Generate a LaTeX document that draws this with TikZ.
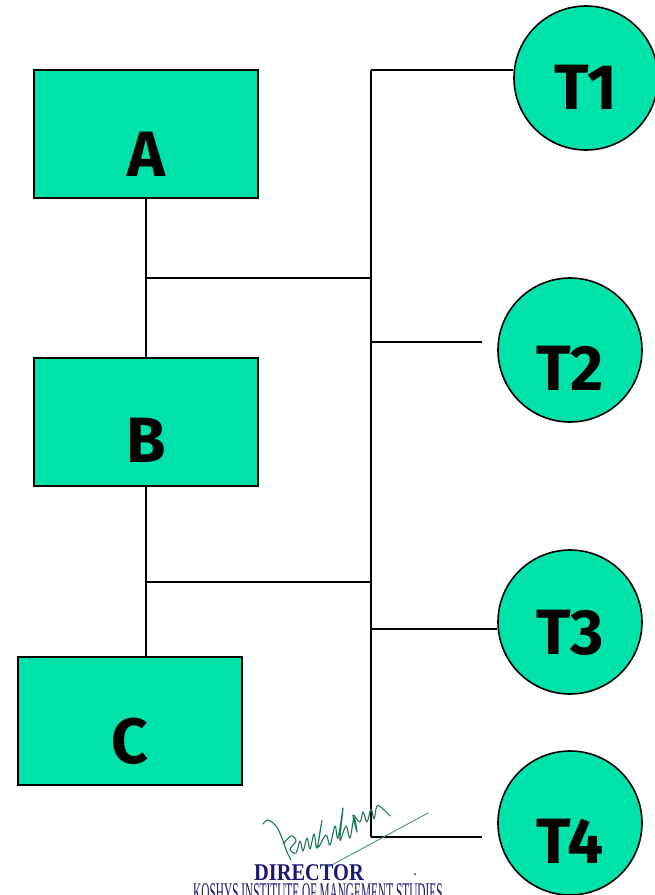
\documentclass[tikz,border=0pt]{standalone}
\usepackage{fontspec}
\setmainfont{Fira Sans}
\newfontfamily\serifbl{Liberation Serif}
\definecolor{boxgreen}{RGB}{0,226,170}
\definecolor{navy}{RGB}{25,25,115}
\definecolor{inkgreen}{RGB}{30,120,80}
\tikzset{
  line/.style={line width=1.6pt, black},
  blockbox/.style={draw=black, line width=1.6pt, fill=boxgreen, rectangle,
     minimum width=224pt, minimum height=128pt, inner sep=0pt},
  termcirc/.style={draw=black, line width=1.6pt, fill=boxgreen, circle,
     minimum size=144pt, inner sep=0pt},
  bigtext/.style={font=\bfseries\fontsize{64}{64}\selectfont, text=black, inner sep=0pt},
}
\begin{document}
\begin{tikzpicture}[x=1pt,y=-1pt]
\useasboundingbox (0,0) rectangle (654,895);
% blocks
\node[blockbox, label={[bigtext, yshift=-20pt]center:A}] (A) at (146,134) {};
\node[blockbox, label={[bigtext, yshift=-18pt]center:B}] (B) at (146,422) {};
\node[blockbox, label={[bigtext, yshift=-20pt]center:C}] (C) at (130,721) {};
% terminals
\node[termcirc, label={[bigtext, yshift=-9pt]center:T1}] (T1) at (586,78) {};
\node[termcirc, label={[bigtext, yshift=-18pt]center:T2}] (T2) at (570,350) {};
\node[termcirc, label={[bigtext, yshift=-11pt]center:T3}] (T3) at (570,622) {};
\node[termcirc, label={[bigtext, yshift=-18pt]center:T4}] (T4) at (570,823) {};
% bus coordinates
\coordinate (b1) at (371,70);
\coordinate (b2) at (371,342);
\coordinate (b3) at (371,629);
\coordinate (b4) at (371,837);
\coordinate (jA) at (146,278);
\coordinate (jB) at (146,582);
\coordinate (s2) at (482,342);
\coordinate (s4) at (482,837);
% connectors
\draw[line] (A.south) -- (B.north);
\draw[line] (B.south) -- (B.south |- C.north);
\draw[line] (jA) -- (jA -| b1);
\draw[line] (jB) -- (jB -| b1);
\draw[line] (b1) -- (b4);
\draw[line] (b1) -- (b1 -| T1.west);
\draw[line] (b2) -- (s2);
\draw[line] (b3) -- (b3 -| T3.west);
\draw[line] (b4) -- (s4);
% signature
\draw[inkgreen, line width=1.1pt, line cap=round, line join=round]
  plot[smooth, tension=0.6] coordinates {(263,824) (268,820) (276,826) (282,838) (287,852) (291,860)};
\draw[inkgreen, line width=1.1pt, line cap=round, line join=round]
  plot[smooth, tension=0.6] coordinates {(283,844) (291,836) (296,841) (290,849) (296,853) (300,841) (303,851) (307,838) (310,849) (314,834) (317,848) (322,820) (318,847) (326,835) (330,845) (335,826) (338,838) (343,808) (340,840) (346,826) (350,838) (354,818) (357,832) (353,815) (360,822) (363,812) (367,822) (371,809) (374,819) (377,806) (383,809) (390,816)};
\draw[inkgreen!80, line width=0.9pt, line cap=round] (328,867) -- (428,813);
% signature text
\node[font=\serifbl\bfseries\fontsize{24}{24}\selectfont, text=navy, inner sep=0pt, anchor=base west]
  (dir) at (254,880) {\scalebox{0.85}[1]{DIRECTOR}};
\node[font=\serifbl\fontsize{27}{27}\selectfont, text=navy, inner sep=0pt, anchor=base west]
  (inst) at (193,901) {\scalebox{0.42}[1]{KOSHYS INSTITUTE OF MANGEMENT STUDIES}};
\fill[navy] (415,874) circle (1pt);
\end{tikzpicture}
\end{document}
